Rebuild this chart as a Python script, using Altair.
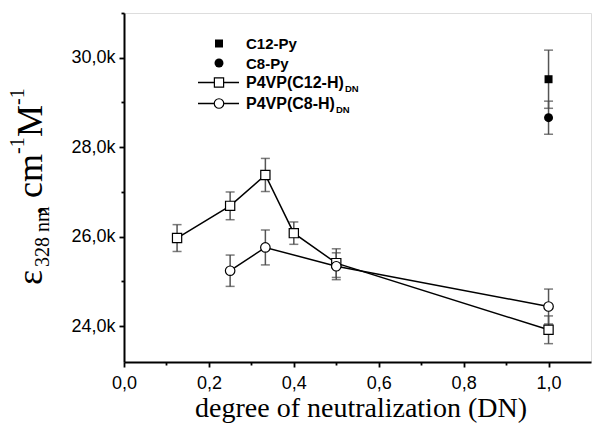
import altair as alt
import pandas as pd

# ---- data ----
dn_c12 = [0.125, 0.25, 0.333, 0.4, 0.5, 1.0]
eps_c12 = [25970, 26690, 27380, 26080, 25410, 23920]
err_c12 = [300, 310, 370, 250, 320, 310]

dn_c8 = [0.25, 0.333, 0.5, 1.0]
eps_c8 = [25240, 25760, 25340, 24440]
err_c8 = [350, 390, 300, 390]

dn_ref = [1.0]
eps_c12py = [29520]
err_c12py = [650]
eps_c8py = [28660]
err_c8py = [370]

x_ticks = [0.0, 0.1, 0.2, 0.3, 0.4, 0.5, 0.6, 0.7, 0.8, 0.9, 1.0]
y_ticks = [24000, 25000, 26000, 27000, 28000, 29000, 30000, 31000]

def frame(xs, ys, es, name):
    return pd.DataFrame({"dn": xs, "eps": ys, "err": es, "series": name})

df_c12 = frame(dn_c12, eps_c12, err_c12, "P4VP(C12-H)")
df_c8 = frame(dn_c8, eps_c8, err_c8, "P4VP(C8-H)")
df_c12py = frame(dn_ref, eps_c12py, err_c12py, "C12-Py")
df_c8py = frame(dn_ref, eps_c8py, err_c8py, "C8-Py")
df_all = pd.concat([df_c12, df_c8, df_c12py, df_c8py], ignore_index=True)
df_all["lo"] = df_all["eps"] - df_all["err"]
df_all["hi"] = df_all["eps"] + df_all["err"]

W, H = 467, 349
xscale = alt.Scale(domain=[0, 1.1], nice=False, zero=False)
yscale = alt.Scale(domain=[23200, 31000], nice=False, zero=False)

x_axis = alt.Axis(
    values=x_ticks, title=None, grid=False,
    labelExpr="round(datum.value*10) % 2 == 0 ? replace(format(datum.value, '.1f'), '.', ',') : ''",
    tickSize={"condition": {"test": "round(datum.value*10) % 2 == 1", "value": 3}, "value": 5},
    labelFont="Liberation Sans", labelFontSize=18, labelColor="black", labelPadding=7,
    labelFlush=False, labelOverlap=False,
)
y_axis = alt.Axis(
    values=y_ticks, title=None, grid=False,
    labelExpr="datum.value % 2000 == 0 ? replace(format(datum.value/1000, '.1f'), '.', ',') + 'k' : ''",
    tickSize={"condition": {"test": "datum.value % 2000 != 0", "value": 3}, "value": 5},
    labelFont="Liberation Sans", labelFontSize=18, labelColor="black", labelPadding=4,
    labelFlush=False, labelOverlap=False,
)

X = alt.X("dn:Q", scale=xscale, axis=x_axis)
Y = alt.Y("eps:Q", scale=yscale, axis=y_axis)

base = alt.Chart(df_all)

err_rules = base.mark_rule(color="#555555", strokeWidth=1.5).encode(
    x=X, y=alt.Y("lo:Q", scale=yscale, axis=y_axis), y2="hi:Q")
caps_lo = base.mark_tick(color="#444444", orient="horizontal", size=9, thickness=1.5).encode(
    x=X, y=alt.Y("lo:Q", scale=yscale, axis=y_axis))
caps_hi = base.mark_tick(color="#444444", orient="horizontal", size=9, thickness=1.5).encode(
    x=X, y=alt.Y("hi:Q", scale=yscale, axis=y_axis))

lines = alt.Chart(pd.concat([df_c12, df_c8])).mark_line(color="black", strokeWidth=1.5).encode(
    x=X, y=Y, detail="series:N", order="dn:Q")

pts_c12 = alt.Chart(df_c12).mark_point(shape="square", filled=True, fill="white",
                                       stroke="black", strokeWidth=1.2, size=85, opacity=1).encode(x=X, y=Y)
pts_c8 = alt.Chart(df_c8).mark_point(shape="circle", filled=True, fill="white",
                                     stroke="black", strokeWidth=1.2, size=90, opacity=1).encode(x=X, y=Y)
pts_c12py = alt.Chart(df_c12py).mark_point(shape="square", filled=True, color="black",
                                           size=64, opacity=1).encode(x=X, y=Y)
pts_c8py = alt.Chart(df_c8py).mark_point(shape="circle", filled=True, color="black",
                                         size=80, opacity=1).encode(x=X, y=Y)

# ---- legend (drawn by hand; offsets relative to plot origin) ----
L = pd.DataFrame({"k": [0]})
ox, oy = 124, 13
def sx(v):
    return v - ox
def sy(v):
    return v - oy

leg = []
sym_x = 219
row_y = [43.5, 63, 82.5, 103.5]
leg.append(alt.Chart(L).mark_point(shape="square", filled=True, color="black", size=64, opacity=1)
           .encode(x=alt.value(sx(sym_x)), y=alt.value(sy(row_y[0]))))
leg.append(alt.Chart(L).mark_point(shape="circle", filled=True, color="black", size=80, opacity=1)
           .encode(x=alt.value(sx(sym_x)), y=alt.value(sy(row_y[1]))))
for r in (2, 3):
    leg.append(alt.Chart(L).mark_rule(color="black", strokeWidth=1.5)
               .encode(x=alt.value(sx(198)), x2=alt.value(sx(239)), y=alt.value(sy(row_y[r]))))
leg.append(alt.Chart(L).mark_point(shape="square", filled=True, fill="white", stroke="black",
                                   strokeWidth=1.2, size=85, opacity=1)
           .encode(x=alt.value(sx(sym_x)), y=alt.value(sy(row_y[2]))))
leg.append(alt.Chart(L).mark_point(shape="circle", filled=True, fill="white", stroke="black",
                                   strokeWidth=1.2, size=90, opacity=1)
           .encode(x=alt.value(sx(sym_x)), y=alt.value(sy(row_y[3]))))

def txt(s, x, y, size, font="Liberation Sans", weight="bold", angle=0, align="left"):
    m = alt.Chart(L).mark_text(text=s, font=font, fontSize=size, fontWeight=weight,
                               color="black", align=align, baseline="alphabetic", angle=angle)
    return m.encode(x=alt.value(sx(x)), y=alt.value(sy(y)))

leg.append(txt("C12-Py", 246, row_y[0] + 5.5, 15))
leg.append(txt("C8-Py", 246, row_y[1] + 5.5, 15))
leg.append(txt("P4VP(C12-H)", 246, row_y[2] + 5.5, 16))
leg.append(txt("P4VP(C8-H)", 246, row_y[3] + 5.5, 16))
leg.append(txt("DN", 345, row_y[2] + 9, 9.5))
leg.append(txt("DN", 336, row_y[3] + 9, 9.5))

# ---- axis titles ----
titles = [txt("degree of neutralization (DN)", 361, 417, 28, font="Liberation Serif",
              weight="normal", align="center")]
serif = "Liberation Serif"
# (text, baseline x, start y, font size) -- rotated, reading bottom to top
ytitle_parts = [
    ("\u03b5", 42, 285, 36),
    ("328 nm", 49, 267, 20),
    (",", 42, 215, 36),
    ("cm", 42, 198, 36),
    ("-1", 24, 154, 20),
    ("M", 42, 137, 36),
    ("-1", 24, 105, 20),
]
for s, x, y, size in ytitle_parts:
    m = alt.Chart(L).mark_text(text=s, font=serif, fontSize=size, color="black",
                               align="left", baseline="alphabetic", angle=270)
    titles.append(m.encode(x=alt.value(sx(x)), y=alt.value(sy(y))))

chart = alt.layer(err_rules, caps_lo, caps_hi, lines, pts_c12, pts_c8, pts_c12py, pts_c8py,
                  *leg, *titles).properties(
    width=W, height=H,
    padding={"left": 124, "top": 13, "right": 4, "bottom": 61},
    autosize=alt.AutoSizeParams(type="none"),
).configure_view(stroke=None).configure(background="white").configure_axis(
    domainColor="black", domainWidth=2, domainOpacity=1,
    tickColor="black", tickWidth=1.8, tickOpacity=1,
)

chart.save("out.html", embed_options={"renderer": "svg", "actions": False})
